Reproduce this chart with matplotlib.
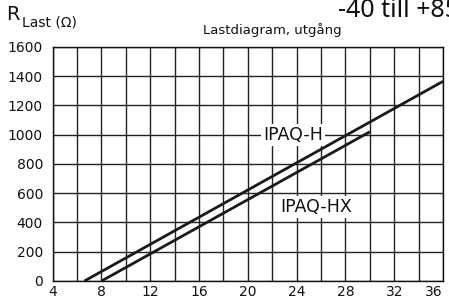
import matplotlib
matplotlib.use("Agg")
import matplotlib.pyplot as plt

# --- Data ---
x_ticks = [4, 8, 12, 16, 20, 24, 28, 32, 36]
y_ticks = [0, 200, 400, 600, 800, 1000, 1200, 1400, 1600]

h_u = [6.6, 36]
h_r = [0, 1365]
hx_u = [8, 30]
hx_r = [0, 1020]

plt.rcParams['font.family'] = ['DejaVu Sans']

fig = plt.figure(figsize=(4.49, 3.07), dpi=100)
ax = fig.add_axes([0.1174, 0.0847, 0.8692, 0.7623])

ax.set_xlim(4, 36)
ax.set_ylim(0, 1600)
grid_x = list(range(4, 37, 2))
ax.set_xticks(grid_x)
ax.set_xticklabels([str(v) if v in x_ticks else "" for v in grid_x])
ax.set_yticks(y_ticks)
ax.grid(True, color="#222222", linewidth=1.0)
ax.set_axisbelow(True)
ax.tick_params(axis="x", length=0, labelsize=10, pad=3, colors="#111111")
ax.tick_params(axis="y", length=0, labelsize=10, pad=7, colors="#111111")
# last x label sits inside the right edge
ax.get_xticklabels()[-1].set_ha("right")
for s in ax.spines.values():
    s.set_color("#111111")
    s.set_linewidth(1.0)

ax.plot(h_u, h_r, color="#1a1a1a", linewidth=2.0, solid_capstyle="butt", clip_on=False)
ax.plot(hx_u, hx_r, color="#1a1a1a", linewidth=2.0, solid_capstyle="butt")

bb = dict(facecolor="white", edgecolor="none", pad=1.5)
ax.text(23.7, 1000, "IPAQ-H", fontsize=12.5, ha="center", va="center", bbox=bb, color="#111111")
ax.text(25.6, 505, "IPAQ-HX", fontsize=12.5, ha="center", va="center", bbox=bb, color="#111111")

# titles
fig.text(0.014, 1 - 20 / 307, "R", fontsize=14, va="baseline", color="#111111")
fig.text(0.050, 1 - 26 / 307, "Last (\u03a9)", fontsize=10, va="baseline", color="#111111")
fig.text(272 / 449, 1 - 34 / 307, "Lastdiagram, utgång", fontsize=9.5, ha="center",
         va="baseline", color="#111111")
fig.text(338 / 449, 1 - 17 / 307, "-40 till +85\u00b0C", fontsize=18, va="baseline",
         color="#111111", family=["Noto Sans", "DejaVu Sans"])

fig.savefig("out.png", dpi=100)
